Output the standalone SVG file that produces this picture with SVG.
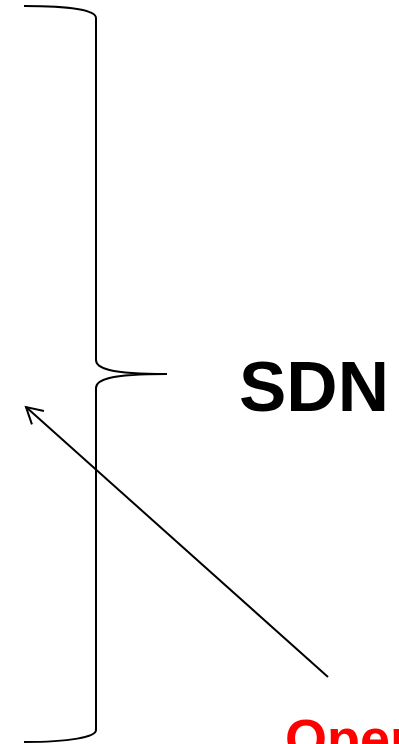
<svg xmlns="http://www.w3.org/2000/svg" width="399" height="744" viewBox="0 0 399 744">
<defs>
<style>
.line{fill:none;stroke:#000;stroke-width:2}
.label{font-family:"Liberation Sans",Arial,sans-serif;font-weight:bold}
</style>
<marker id="arrow" markerUnits="userSpaceOnUse" markerWidth="30" markerHeight="30" refX="20" refY="10" viewBox="0 0 30 20" orient="auto">
<path d="M4,1 L20,10 L4,19" fill="none" stroke="#000" stroke-width="2"/>
</marker>
</defs>
<rect width="399" height="744" fill="#fff"/>
<g id="brace">
<path class="line" d="M24,6 C70,6 96,10 96,18 L96,360 C96,368 108,374 167,374 C108,374 96,380 96,388 L96,730 C96,737 70,742 24,742"/>
</g>
<g id="sdn">
<text class="label" x="239" y="411" font-size="71" fill="#000">SDN</text>
</g>
<g id="open">
<text class="label" x="285" y="757" font-size="54" fill="#ff0000">Open</text>
</g>
<g id="connectors">
<line class="line" x1="328" y1="677" x2="26" y2="407" marker-end="url(#arrow)"/>
</g>
</svg>
